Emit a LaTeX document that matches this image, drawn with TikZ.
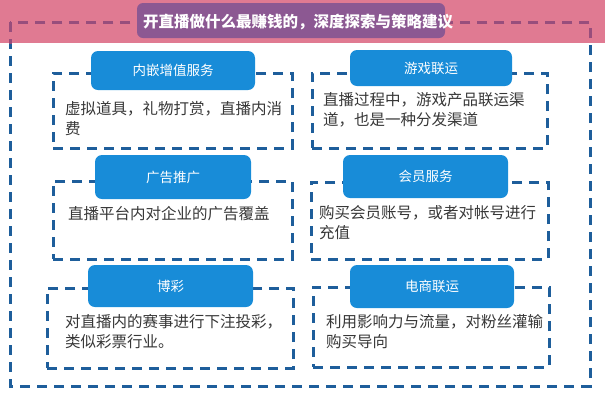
\documentclass[tikz,border=0pt]{standalone}
\usepackage{fontspec}
\setmainfont{Noto Sans CJK SC}
\definecolor{bandpink}{RGB}{224,122,146}
\definecolor{titlepurple}{RGB}{140,88,146}
\definecolor{dashblue}{RGB}{30,94,155}
\definecolor{dashmauve}{RGB}{152,78,124}
\definecolor{tagblue}{RGB}{24,140,216}
\definecolor{textgray}{RGB}{55,55,55}
\tikzset {
    dashline/.style={line width=3pt, dash pattern=on 10pt off 7pt},
    panel/.style={rectangle, draw=dashblue, dashline, inner sep=0pt},
    tag/.style={rectangle, rounded corners=7pt, fill=tagblue, text=white,
        inner sep=0pt, font=\fontsize{13.5}{16}\selectfont},
    desc/.style={anchor=west, align=left, inner sep=0pt, text=textgray,
        font=\fontsize{15.5}{20}\selectfont}
}

\begin{document}
\begin{tikzpicture}[x=1pt, y=-1pt]
    \useasboundingbox (0,0) rectangle (605,400);

    % top band and frame
    \fill[bandpink] (0,0) rectangle (605,43);
    \coordinate (fa) at (10,22);
    \coordinate (fb) at (590,386);
    \draw[dashblue, dashline] (fa) rectangle (fb);
    \begin{scope}
        \clip (0,0) rectangle (605,43);
        \draw[dashmauve, dashline] (fa) rectangle (fb);
    \end{scope}
    \fill[titlepurple, rounded corners=6pt] (137,3) rectangle (445,38);
    \node[anchor=west, inner sep=0pt, text=white, font=\fontsize{15.5}{18}\bfseries] (title)
        at (143,22) {开直播做什么最赚钱的，深度探索与策略建议};

    % panels
    \node[panel, minimum width=239pt, minimum height=75pt] (p1) at (172.5,110.5) {};
    \node[panel, minimum width=235pt, minimum height=75pt] (p2) at (429.5,110.5) {};
    \node[panel, minimum width=239pt, minimum height=78pt] (p3) at (172.5,220) {};
    \node[panel, minimum width=237pt, minimum height=77pt] (p4) at (429.5,220.5) {};
    \node[panel, minimum width=246pt, minimum height=80pt] (p5) at (170,328) {};
    \node[panel, minimum width=236pt, minimum height=80pt] (p6) at (431,327) {};

    % headings
    \node[tag, minimum width=164pt, minimum height=39pt] (t1) at (173,70.5) {内嵌增值服务};
    \node[tag, minimum width=162pt, minimum height=36pt] (t2) at (431,68) {游戏联运};
    \node[tag, minimum width=156pt, minimum height=44pt] (t3) at (173,177) {广告推广};
    \node[tag, minimum width=165pt, minimum height=43pt] (t4) at (425.5,176.5) {会员服务};
    \node[tag, minimum width=165pt, minimum height=42pt] (t5) at (170.5,286) {博彩};
    \node[tag, minimum width=164pt, minimum height=43pt] (t6) at (432,286.5) {电商联运};

    % texts
    \node[desc] (d1) at (65,119) {虚拟道具，礼物打赏，直播内消\\费};
    \node[desc] (d2) at (323,110) {直播过程中，游戏产品联运渠\\道，也是一种分发渠道};
    \node[desc] (d3) at (68,214) {直播平台内对企业的广告覆盖};
    \node[desc] (d4) at (319,223) {购买会员账号，或者对帐号进行\\充值};
    \node[desc] (d5) at (65,332) {对直播内的赛事进行下注投彩，\\类似彩票行业。};
    \node[desc] (d6) at (326,331.5) {利用影响力与流量，对粉丝灌输\\购买导向};
\end{tikzpicture}
\end{document}
